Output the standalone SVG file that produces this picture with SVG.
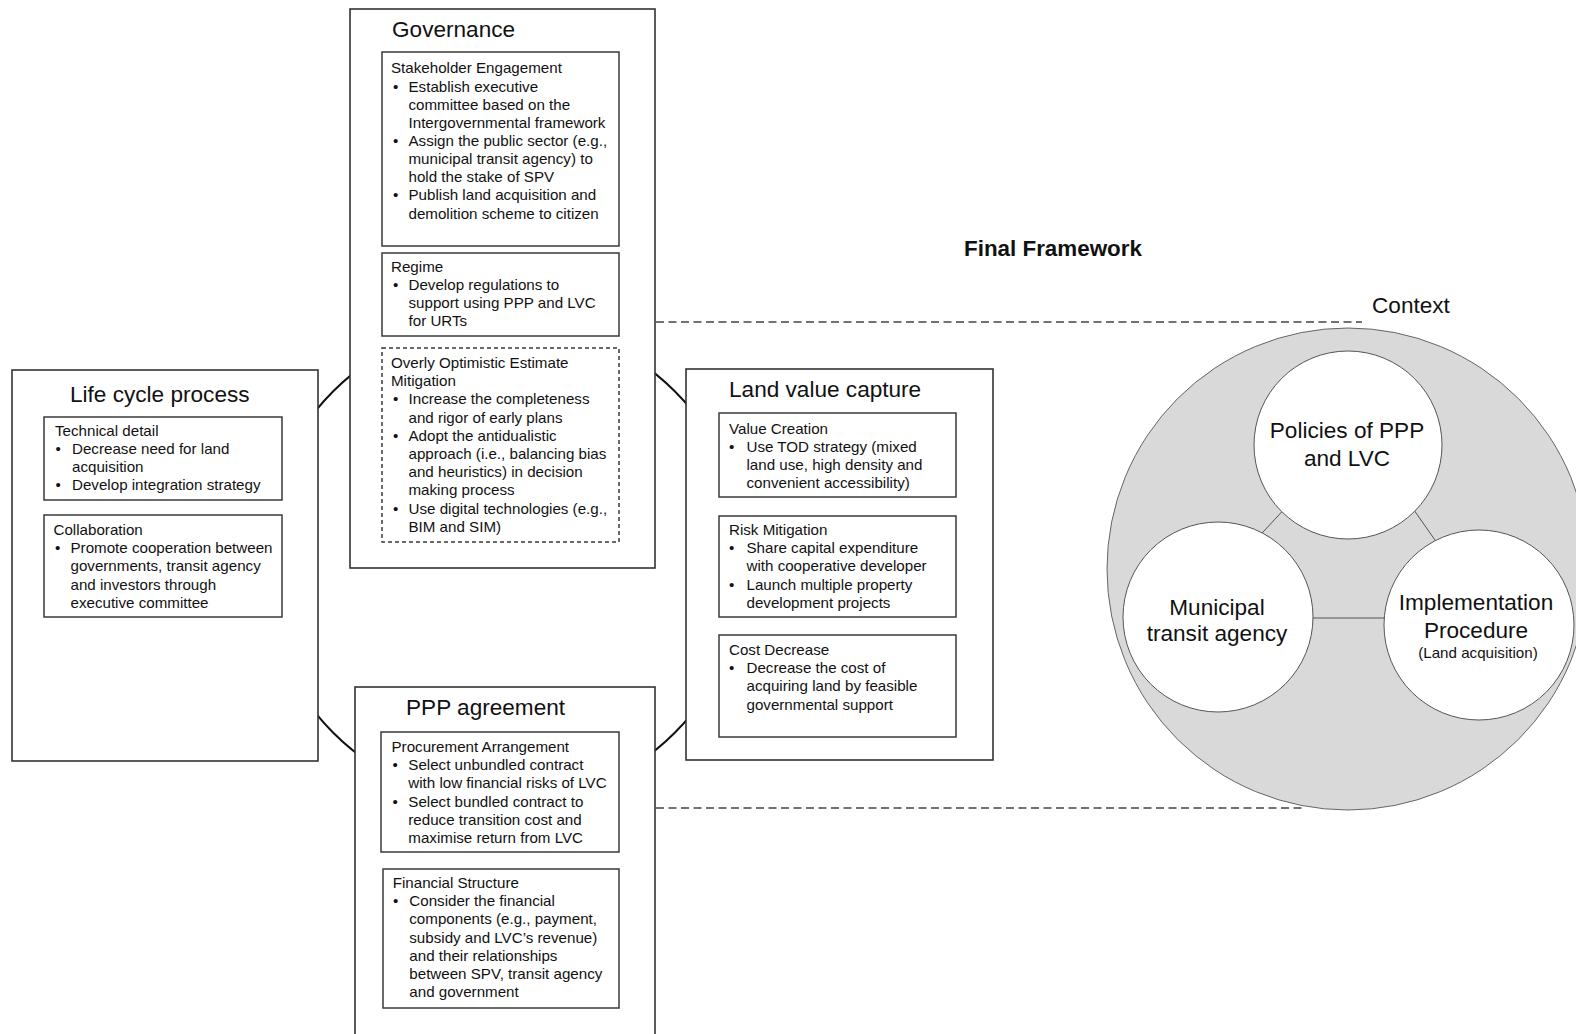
<svg xmlns="http://www.w3.org/2000/svg" width="1576" height="1034" viewBox="0 0 1576 1034">
  <style>
    text { font-family: "Liberation Sans", Arial, sans-serif; fill: #111; }
    .title { font-size: 22.6px; }
    .body { font-size: 15.15px; }
    .bold { font-size: 22.4px; font-weight: bold; }
    .outer { fill: #fff; stroke: #333; stroke-width: 1.6; }
    .inner { fill: #fff; stroke: #3a3a3a; stroke-width: 1.5; }
    .dashed { fill: #fff; stroke: #3a3a3a; stroke-width: 1.5; stroke-dasharray: 4 3; }
    .ring { fill: none; stroke: #111; stroke-width: 2; }
    .guide { fill: none; stroke: #444; stroke-width: 1.6; stroke-dasharray: 8 4.5; }
    .ctx { fill: #d9d9d9; stroke: #666; stroke-width: 1; }
    .bubble { fill: #fff; stroke: #555; stroke-width: 1; }
    .link { stroke: #555; stroke-width: 1; }
    .c { text-anchor: middle; }
  </style>
  <rect width="1576" height="1034" fill="#fff"/>

  <!-- connectors: ring linking the four dimensions, guide lines to the context -->
  <g id="connectors">
    <circle class="ring" cx="504" cy="562" r="241.5"/>
    <line class="guide" x1="656" y1="322" x2="1362" y2="322"/>
    <line class="guide" x1="656" y1="808" x2="1303" y2="808"/>
  </g>

  <g id="title-final">
    <text class="bold" x="964" y="255.5">Final Framework</text>
  </g>

  <!-- Governance -->
  <g id="governance">
    <rect class="outer" x="350" y="9" width="305" height="559"/>
    <text class="title" x="392" y="37">Governance</text>
    <rect class="inner" x="382" y="52" width="237" height="194"/>
    <text class="body" x="391" y="73.3">Stakeholder Engagement</text>
    <text class="body" x="393" y="91.5">•</text>
    <text class="body" x="408.5" y="91.5">Establish executive</text>
    <text class="body" x="408.5" y="109.6">committee based on the</text>
    <text class="body" x="408.5" y="127.8">Intergovernmental framework</text>
    <text class="body" x="393" y="145.9">•</text>
    <text class="body" x="408.5" y="145.9">Assign the public sector (e.g.,</text>
    <text class="body" x="408.5" y="164.1">municipal transit agency) to</text>
    <text class="body" x="408.5" y="182.2">hold the stake of SPV</text>
    <text class="body" x="393" y="200.4">•</text>
    <text class="body" x="408.5" y="200.4">Publish land acquisition and</text>
    <text class="body" x="408.5" y="218.5">demolition scheme to citizen</text>

    <rect class="inner" x="382" y="253" width="237" height="83"/>
    <text class="body" x="391" y="271.5">Regime</text>
    <text class="body" x="393" y="289.7">•</text>
    <text class="body" x="408.5" y="289.7">Develop regulations to</text>
    <text class="body" x="408.5" y="307.9">support using PPP and LVC</text>
    <text class="body" x="408.5" y="326.1">for URTs</text>

    <rect class="dashed" x="382" y="348" width="237" height="194"/>
    <text class="body" x="391" y="368">Overly Optimistic Estimate</text>
    <text class="body" x="391" y="386.2">Mitigation</text>
    <text class="body" x="393" y="404.4">•</text>
    <text class="body" x="408.5" y="404.4">Increase the completeness</text>
    <text class="body" x="408.5" y="422.6">and rigor of early plans</text>
    <text class="body" x="393" y="440.8">•</text>
    <text class="body" x="408.5" y="440.8">Adopt the antidualistic</text>
    <text class="body" x="408.5" y="459">approach (i.e., balancing bias</text>
    <text class="body" x="408.5" y="477.2">and heuristics) in decision</text>
    <text class="body" x="408.5" y="495.4">making process</text>
    <text class="body" x="393" y="513.6">•</text>
    <text class="body" x="408.5" y="513.6">Use digital technologies (e.g.,</text>
    <text class="body" x="408.5" y="531.8">BIM and SIM)</text>
  </g>

  <!-- Life cycle process -->
  <g id="life-cycle">
    <rect class="outer" x="12" y="370" width="306" height="391"/>
    <text class="title" x="70" y="401.5">Life cycle process</text>
    <rect class="inner" x="44" y="417" width="238" height="83"/>
    <text class="body" x="55" y="435.8">Technical detail</text>
    <text class="body" x="55.5" y="454">•</text>
    <text class="body" x="72" y="454">Decrease need for land</text>
    <text class="body" x="72" y="472.2">acquisition</text>
    <text class="body" x="55.5" y="490.4">•</text>
    <text class="body" x="72" y="490.4">Develop integration strategy</text>

    <rect class="inner" x="44" y="515" width="238" height="102"/>
    <text class="body" x="53.5" y="535">Collaboration</text>
    <text class="body" x="55" y="553.2">•</text>
    <text class="body" x="70.5" y="553.2">Promote cooperation between</text>
    <text class="body" x="70.5" y="571.4">governments, transit agency</text>
    <text class="body" x="70.5" y="589.6">and investors through</text>
    <text class="body" x="70.5" y="607.8">executive committee</text>
  </g>

  <!-- Land value capture -->
  <g id="land-value-capture">
    <rect class="outer" x="686" y="369" width="307" height="391"/>
    <text class="title" x="729" y="397.3">Land value capture</text>
    <rect class="inner" x="719" y="413" width="237" height="84"/>
    <text class="body" x="729" y="433.5">Value Creation</text>
    <text class="body" x="729" y="451.7">•</text>
    <text class="body" x="746.5" y="451.7">Use TOD strategy (mixed</text>
    <text class="body" x="746.5" y="469.9">land use, high density and</text>
    <text class="body" x="746.5" y="488">convenient accessibility)</text>

    <rect class="inner" x="719" y="516" width="237" height="101"/>
    <text class="body" x="729" y="535">Risk Mitigation</text>
    <text class="body" x="729" y="553.2">•</text>
    <text class="body" x="746.5" y="553.2">Share capital expenditure</text>
    <text class="body" x="746.5" y="571.4">with cooperative developer</text>
    <text class="body" x="729" y="589.6">•</text>
    <text class="body" x="746.5" y="589.6">Launch multiple property</text>
    <text class="body" x="746.5" y="607.8">development projects</text>

    <rect class="inner" x="719" y="635" width="237" height="102"/>
    <text class="body" x="729" y="655">Cost Decrease</text>
    <text class="body" x="729" y="673.2">•</text>
    <text class="body" x="746.5" y="673.2">Decrease the cost of</text>
    <text class="body" x="746.5" y="691.4">acquiring land by feasible</text>
    <text class="body" x="746.5" y="709.6">governmental support</text>
  </g>

  <!-- PPP agreement -->
  <g id="ppp-agreement">
    <rect class="outer" x="355" y="687" width="300" height="360"/>
    <text class="title" x="406" y="715">PPP agreement</text>
    <rect class="inner" x="381" y="732" width="238" height="120"/>
    <text class="body" x="391.5" y="752">Procurement Arrangement</text>
    <text class="body" x="392.5" y="770.2">•</text>
    <text class="body" x="408.3" y="770.2">Select unbundled contract</text>
    <text class="body" x="408.3" y="788.4">with low financial risks of LVC</text>
    <text class="body" x="392.5" y="806.6">•</text>
    <text class="body" x="408.3" y="806.6">Select bundled contract to</text>
    <text class="body" x="408.3" y="824.8">reduce transition cost and</text>
    <text class="body" x="408.3" y="843">maximise return from LVC</text>

    <rect class="inner" x="383" y="869" width="236" height="139"/>
    <text class="body" x="392.7" y="888">Financial Structure</text>
    <text class="body" x="393" y="906.2">•</text>
    <text class="body" x="409.3" y="906.2">Consider the financial</text>
    <text class="body" x="409.3" y="924.4">components (e.g., payment,</text>
    <text class="body" x="409.3" y="942.6">subsidy and LVC’s revenue)</text>
    <text class="body" x="409.3" y="960.8">and their relationships</text>
    <text class="body" x="409.3" y="979">between SPV, transit agency</text>
    <text class="body" x="409.3" y="997.2">and government</text>
  </g>

  <!-- Context -->
  <g id="context">
    <text class="title" x="1372" y="313">Context</text>
    <circle class="ctx" cx="1348" cy="569" r="241"/>
  </g>

  <g id="context-links">
    <line class="link" x1="1290" y1="503" x2="1250" y2="546"/>
    <line class="link" x1="1409" y1="503" x2="1442" y2="550"/>
    <line class="link" x1="1305" y1="618" x2="1392" y2="618"/>
  </g>

  <g id="policies">
    <circle class="bubble" cx="1348" cy="445" r="94"/>
    <text class="title c" x="1347" y="438">Policies of PPP</text>
    <text class="title c" x="1347" y="466">and LVC</text>
  </g>

  <g id="municipal-agency">
    <circle class="bubble" cx="1218" cy="617" r="95"/>
    <text class="title c" x="1217" y="614.5">Municipal</text>
    <text class="title c" x="1217" y="641">transit agency</text>
  </g>

  <g id="implementation">
    <circle class="bubble" cx="1479" cy="625" r="95"/>
    <text class="title c" x="1476" y="610">Implementation</text>
    <text class="title c" x="1476" y="637.5">Procedure</text>
    <text class="body c" x="1478" y="658">(Land acquisition)</text>
  </g>
</svg>
